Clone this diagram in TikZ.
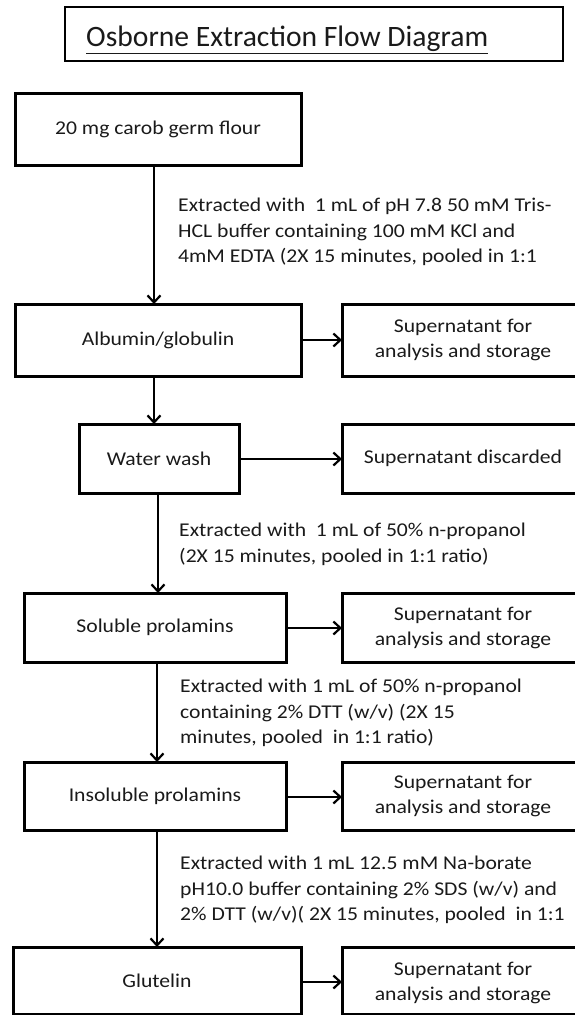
\documentclass[tikz,border=0pt]{standalone}
\usepackage{fontspec}
\setmainfont{Carlito}[FakeStretch=1.11]
\newfontfamily\titlefont{Carlito}
\usetikzlibrary{arrows.meta}
\definecolor{ink}{HTML}{1A1A1A}
\tikzset{
  boxline/.style={draw=black, line width=3pt},
  boxtext/.style={inner sep=0pt, align=center, text=ink, font=\fontsize{19.5}{25}\selectfont},
  flow/.style={draw=black, line width=2pt, -{Straight Barb[length=7pt,width=13pt,line width=2.2pt]}},
  lbl/.style={anchor=west, inner sep=0pt, align=left, text=ink,
    font=\fontsize{19.5}{25.5}\selectfont}
}
\begin{document}
\begin{tikzpicture}[x=1pt,y=-1pt]
\useasboundingbox (0,0) rectangle (575,1015);
\clip (0,0) rectangle (575,1015);
\fill[white] (0,0) rectangle (575,1015);

% title
\draw[line width=1.6pt] (65,7) rectangle (563,61);
\node[anchor=base west, inner sep=0pt, text=ink, font=\titlefont\fontsize{29.6}{34}\selectfont]
  (title) at (86,46.5) {\underline{Osborne Extraction Flow Diagram}};

% left column boxes
\draw[boxline] (15,93) rectangle (301,165);
\draw[boxline] (15,304) rectangle (301,376);
\draw[boxline] (79,424) rectangle (239,493);
\draw[boxline] (24,593) rectangle (286,662);
\draw[boxline] (24,762) rectangle (286,830);
\draw[boxline] (13,947) rectangle (301,1014);
% right column boxes (they run off the right edge of the picture)
\draw[boxline] (580,304) -- (342,304) -- (342,376) -- (580,376);
\draw[boxline] (580,424) -- (342,424) -- (342,493) -- (580,493);
\draw[boxline] (580,593) -- (342,593) -- (342,662) -- (580,662);
\draw[boxline] (580,762) -- (342,762) -- (342,830) -- (580,830);
\draw[boxline] (580,947) -- (342,947) -- (342,1014) -- (580,1014);

% texts
\node[boxtext] (b1)  at (158,129) {20 mg carob germ flour};
\node[boxtext] (alb) at (158,340) {Albumin/globulin};
\node[boxtext] (ww)  at (159,458.5) {Water wash};
\node[boxtext] (sol) at (155,627.5) {Soluble prolamins};
\node[boxtext] (ins) at (155,796) {Insoluble prolamins};
\node[boxtext] (glu) at (157,981) {Glutelin};
\node[boxtext] (s1) at (463,340) {Supernatant for\\analysis and storage};
\node[boxtext] (s2) at (463,458.5) {Supernatant discarded};
\node[boxtext] (s3) at (463,627.5) {Supernatant for\\analysis and storage};
\node[boxtext] (s4) at (463,796) {Supernatant for\\analysis and storage};
\node[boxtext] (s5) at (463,983) {Supernatant for\\analysis and storage};

% connector end points on box edges
\coordinate (b1s) at (154,165);  \coordinate (albn) at (154,304);
\coordinate (albs) at (154,376); \coordinate (wwn) at (154,424);
\coordinate (wws) at (158,493);  \coordinate (soln) at (158,593);
\coordinate (sols) at (157,662); \coordinate (insn) at (157,762);
\coordinate (inss) at (157,830); \coordinate (glun) at (157,947);
\coordinate (albe) at (301,340); \coordinate (s1w) at (342,340);
\coordinate (wwe) at (239,459);  \coordinate (s2w) at (342,459);
\coordinate (sole) at (286,628); \coordinate (s3w) at (342,628);
\coordinate (inse) at (286,797); \coordinate (s4w) at (342,797);
\coordinate (glue) at (301,982); \coordinate (s5w) at (342,982);

\draw[flow] (b1s) -- (albn);
\draw[flow] (albs) -- (wwn);
\draw[flow] (wws) -- (soln);
\draw[flow] (sols) -- (insn);
\draw[flow] (inss) -- (glun);
\draw[flow] (albe) -- (s1w);
\draw[flow] (wwe) -- (s2w);
\draw[flow] (sole) -- (s3w);
\draw[flow] (inse) -- (s4w);
\draw[flow] (glue) -- (s5w);

% step labels
\node[lbl] (l1) at (178,232) {Extracted with\ \ 1 mL of pH 7.8 50 mM Tris-\\HCL buffer containing 100 mM KCl and\\4mM EDTA (2X 15 minutes, pooled in 1:1};
\node[lbl] (l2) at (179,544.5) {Extracted with\ \ 1 mL of 50\% n-propanol\\(2X 15 minutes, pooled in 1:1 ratio)};
\node[lbl] (l3) at (180,713) {Extracted with 1 mL of 50\% n-propanol\\containing 2\% DTT (w/v) (2X 15\\minutes, pooled\ \ in 1:1 ratio)};
\node[lbl] (l4) at (180,890) {Extracted with 1 mL 12.5 mM Na-borate\\pH10.0 buffer containing 2\% SDS (w/v) and\\2\% DTT (w/v)( 2X 15 minutes, pooled\ \ in 1:1};
\end{tikzpicture}
\end{document}
